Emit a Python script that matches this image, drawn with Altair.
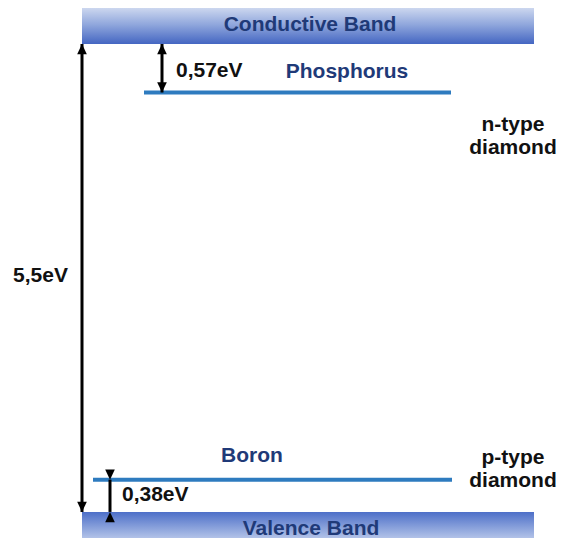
import altair as alt
import pandas as pd

# ---- data ----
band_names = ["Conductive Band", "Valence Band"]
band_energy = [5.5, 0.0]            # eV (valence band top = 0)
dopant_names = ["Phosphorus", "Boron"]
dopant_gap = [0.57, 0.38]           # ionisation energies, eV
gap_label = "5,5eV"
gap_labels = ["0,57eV", "0,38eV"]
type_labels = ["n-type\ndiamond", "p-type\ndiamond"]
bandgap = 5.5

# ---- layout / style ----
W, H = 551, 530
XDOM = [8, 559]
YDOM = [-0.306, 5.923]
PX = H / (YDOM[1] - YDOM[0])        # pixels per eV
band_x = (82, 534)
band_depth = 0.50
NAVY = "#1f3a78"
LINE = "#2e7bbf"
FONT = "Liberation Sans"
FS = 21

xs = alt.Scale(domain=XDOM, range=[0, W])
ys = alt.Scale(domain=YDOM, range=[H, 0])
X = lambda f: alt.X(f, type="quantitative", scale=xs, axis=None)
Y = lambda f: alt.Y(f, type="quantitative", scale=ys, axis=None)


def off(e, dy):
    """energy position shifted by dy screen pixels (positive = down)"""
    return e - dy / PX


E_cb, E_vb = band_energy
E_p = E_cb - dopant_gap[0]
E_b = E_vb + dopant_gap[1]

# bands
cb = pd.DataFrame({"x": [band_x[0]], "x2": [band_x[1]], "y": [E_cb], "y2": [E_cb + band_depth]})
vb = pd.DataFrame({"x": [band_x[0]], "x2": [band_x[1]], "y": [E_vb], "y2": [E_vb - band_depth]})
grad_cb = alt.LinearGradient(gradient="linear", x1=0, y1=0, x2=0, y2=1,
                             stops=[alt.GradientStop(color="#e4eaf6", offset=0),
                                    alt.GradientStop(color="#8fa6dc", offset=0.55),
                                    alt.GradientStop(color="#4466c2", offset=1)])
grad_vb = alt.LinearGradient(gradient="linear", x1=0, y1=0, x2=0, y2=1,
                             stops=[alt.GradientStop(color="#4d6fc8", offset=0),
                                    alt.GradientStop(color="#9fb3e2", offset=0.5),
                                    alt.GradientStop(color="#f4f6fc", offset=1)])
cb_rect = alt.Chart(cb).mark_rect(color=grad_cb).encode(x=X("x"), x2="x2", y=Y("y"), y2="y2")
vb_rect = alt.Chart(vb).mark_rect(color=grad_vb).encode(x=X("x"), x2="x2", y=Y("y"), y2="y2")

band_txt = pd.DataFrame({"t": band_names, "x": [310, 311],
                         "y": [off(E_cb, -19), off(E_vb, 17)]})
band_text = alt.Chart(band_txt).mark_text(font=FONT, fontSize=FS, fontWeight="bold", color=NAVY).encode(
    x=X("x"), y=Y("y"), text="t:N")

# dopant levels
lv = pd.DataFrame({"name": dopant_names, "E": [E_p, E_b], "x": [144, 93], "x2": [451, 452]})
levels = alt.Chart(lv).mark_rule(color=LINE, strokeWidth=4).encode(x=X("x"), x2="x2", y=Y("E"))
lv_txt = pd.DataFrame({"t": dopant_names, "E": [off(E_p, -20), off(E_b, -24)], "x": [347, 252]})
lv_text = alt.Chart(lv_txt).mark_text(font=FONT, fontSize=FS, fontWeight="bold", color=NAVY).encode(
    x=X("x"), y=Y("E"), text="t:N")

# arrows
arr = pd.DataFrame({"x": [82, 162, 110], "y": [E_cb, E_cb, E_vb], "y2": [E_vb, E_p, E_b]})
shafts = alt.Chart(arr).mark_rule(color="black", strokeWidth=3).encode(x=X("x"), y=Y("y"), y2="y2")
heads_up = alt.Chart(arr).mark_point(shape="M0,0L-0.9,1.9L0.9,1.9Z", filled=True, opacity=1,
                                     color="black", size=115).encode(x=X("x"), y=Y("y"))
heads_dn = alt.Chart(arr).mark_point(shape="M0,0L-0.9,-1.9L0.9,-1.9Z", filled=True, opacity=1,
                                     color="black", size=115).encode(x=X("x"), y=Y("y2"))

# energy labels
gl = pd.DataFrame({"t": gap_labels, "x": [176, 122],
                   "E": [off((E_cb + E_p) / 2, 3), off((E_vb + E_b) / 2, -1)]})
gap_text = alt.Chart(gl).mark_text(font=FONT, fontSize=FS, fontWeight="bold", color="#111",
                                   align="left").encode(x=X("x"), y=Y("E"), text="t:N")
bg = pd.DataFrame({"t": [gap_label], "x": [68], "E": [off(bandgap / 2, -2)]})
big_text = alt.Chart(bg).mark_text(font=FONT, fontSize=FS, fontWeight="bold", color="#111",
                                   align="right").encode(x=X("x"), y=Y("E"), text="t:N")

# type labels
tl = pd.DataFrame({"t": type_labels, "x": [513, 513], "E": [off(E_p, 33), off(E_b, -22)]})
type_text = alt.Chart(tl).mark_text(font=FONT, fontSize=FS, fontWeight="bold", color="#111",
                                    baseline="middle", lineBreak="\n", lineHeight=23).encode(
    x=X("x"), y=Y("E"), text="t:N")

chart = alt.layer(cb_rect, vb_rect, band_text, levels, lv_text, shafts, heads_up, heads_dn,
                  gap_text, big_text, type_text).properties(
    width=W, height=H, padding=0, autosize=alt.AutoSizeParams(type="none"),
    background="white").configure_view(stroke=None)

chart.save("out.html", embed_options={"renderer": "svg", "actions": False})
